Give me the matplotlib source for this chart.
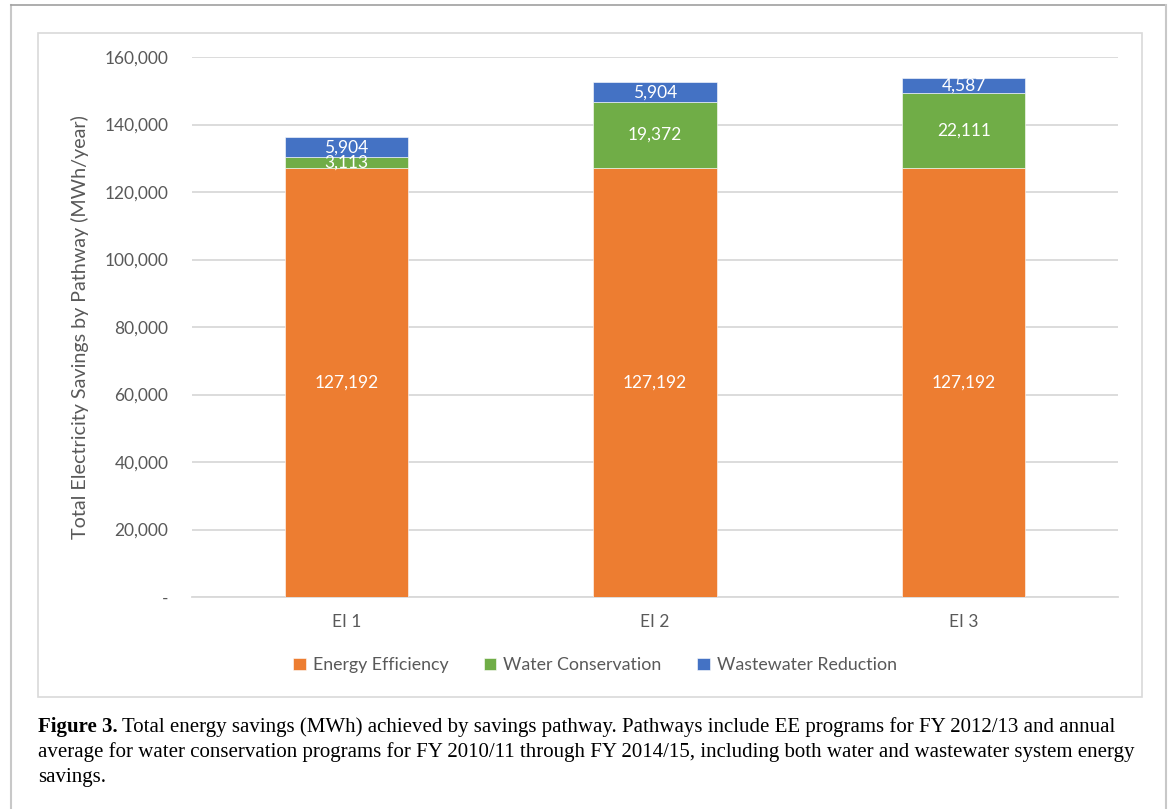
import matplotlib
matplotlib.use("Agg")
import matplotlib.pyplot as plt
from matplotlib.lines import Line2D
from matplotlib.patches import Rectangle

# savings by pathway, MWh/year
scenarios = ["EI 1", "EI 2", "EI 3"]
energy_eff = [127192, 127192, 127192]
water_cons = [3113, 19372, 22111]
wastewater = [5904, 5904, 4587]
series_names = ["Energy Efficiency", "Water Conservation", "Wastewater Reduction"]
yticks = [0, 20000, 40000, 60000, 80000, 100000, 120000, 140000, 160000]

colors = ["#ED7D31", "#70AD47", "#4472C4"]
grey_txt = "#595959"
W, H = 1170, 809

plt.rcParams["font.family"] = ["Lato", "DejaVu Sans"]
fig = plt.figure(figsize=(W / 100, H / 100), dpi=100)

def fx(px):
    return px / W

def fy(py):
    return 1 - py / H

# outer frame and inner chart area box
fig.add_artist(Line2D([fx(11), fx(11)], [fy(5), 0], color="#c8c8c8", lw=1.5))
fig.add_artist(Line2D([fx(11), fx(1166)], [fy(5), fy(5)], color="#a0a0a0", lw=1.2))
fig.add_artist(Line2D([fx(1166), fx(1166)], [fy(5), 0], color="#c8c8c8", lw=1.5))
fig.add_artist(Rectangle((fx(38), fy(697)), fx(1142) - fx(38), fy(33) - fy(697),
                         fill=False, ec="#d9d9d9", lw=1.2, transform=fig.transFigure))

ax = fig.add_axes([fx(192), fy(597), fx(1118) - fx(192), fy(57) - fy(597)])
x = range(len(scenarios))
width = 0.4
bottoms = [0] * len(scenarios)
for vals, c, name in zip([energy_eff, water_cons, wastewater], colors, series_names):
    ax.bar(x, vals, width, bottom=bottoms, color=c, label=name, zorder=3,
           edgecolor="white", linewidth=0.4)
    for xi, b, v in zip(x, bottoms, vals):
        ax.text(xi, b + v / 2, f"{v:,}", ha="center", va="center", color="white",
                fontsize=12.5, zorder=4)
    bottoms = [b + v for b, v in zip(bottoms, vals)]

ax.set_xlim(-0.5, 2.5)
ax.set_ylim(0, 160000)
ax.set_yticks(yticks)
ax.set_yticklabels(["-" if t == 0 else f"{t:,}" for t in yticks])
ax.set_xticks(list(x))
ax.set_xticklabels(scenarios)
ax.tick_params(axis="both", length=0, labelsize=12.5, labelcolor=grey_txt)
ax.tick_params(axis="y", pad=17)
ax.tick_params(axis="x", pad=12)
ax.grid(axis="y", color="#d9d9d9", lw=1.3, zorder=0)
for s in ["top", "right", "left"]:
    ax.spines[s].set_visible(False)
ax.spines["bottom"].set_color("#d9d9d9")
ax.spines["bottom"].set_linewidth(1.3)

fig.text(fx(80), fy(327), "Total Electricity Savings by Pathway (MWh/year)", rotation=90,
         ha="center", va="center", fontsize=14.2, color=grey_txt)

handles, labels = ax.get_legend_handles_labels()
fig.legend(handles, labels, loc="center", bbox_to_anchor=(fx(595), fy(665)), ncol=3,
           frameon=False, fontsize=12.8, labelcolor=grey_txt, handlelength=0.7,
           handleheight=0.7, handletextpad=0.4, columnspacing=2.0)

# caption
cap_font = ["Liberation Serif", "DejaVu Serif"]
cap_size = 15.0
lines = [
    "Total energy savings (MWh) achieved by savings pathway. Pathways include EE programs for FY 2012/13 and annual",
    "average for water conservation programs for FY 2010/11 through FY 2014/15, including both water and wastewater system energy",
    "savings.",
]
bold = fig.text(fx(38), fy(732), "Figure 3.", fontsize=cap_size, family=cap_font,
                weight="bold", va="baseline")
fig.canvas.draw()
bb = bold.get_window_extent(renderer=fig.canvas.get_renderer())
fig.text(bb.x1 / fig.dpi / fig.get_figwidth() + fx(4), fy(732), lines[0], fontsize=cap_size,
         family=cap_font, va="baseline")
fig.text(fx(38), fy(757), lines[1], fontsize=cap_size, family=cap_font, va="baseline")
fig.text(fx(38), fy(782), lines[2], fontsize=cap_size, family=cap_font, va="baseline")

fig.savefig("out.png", dpi=100)
